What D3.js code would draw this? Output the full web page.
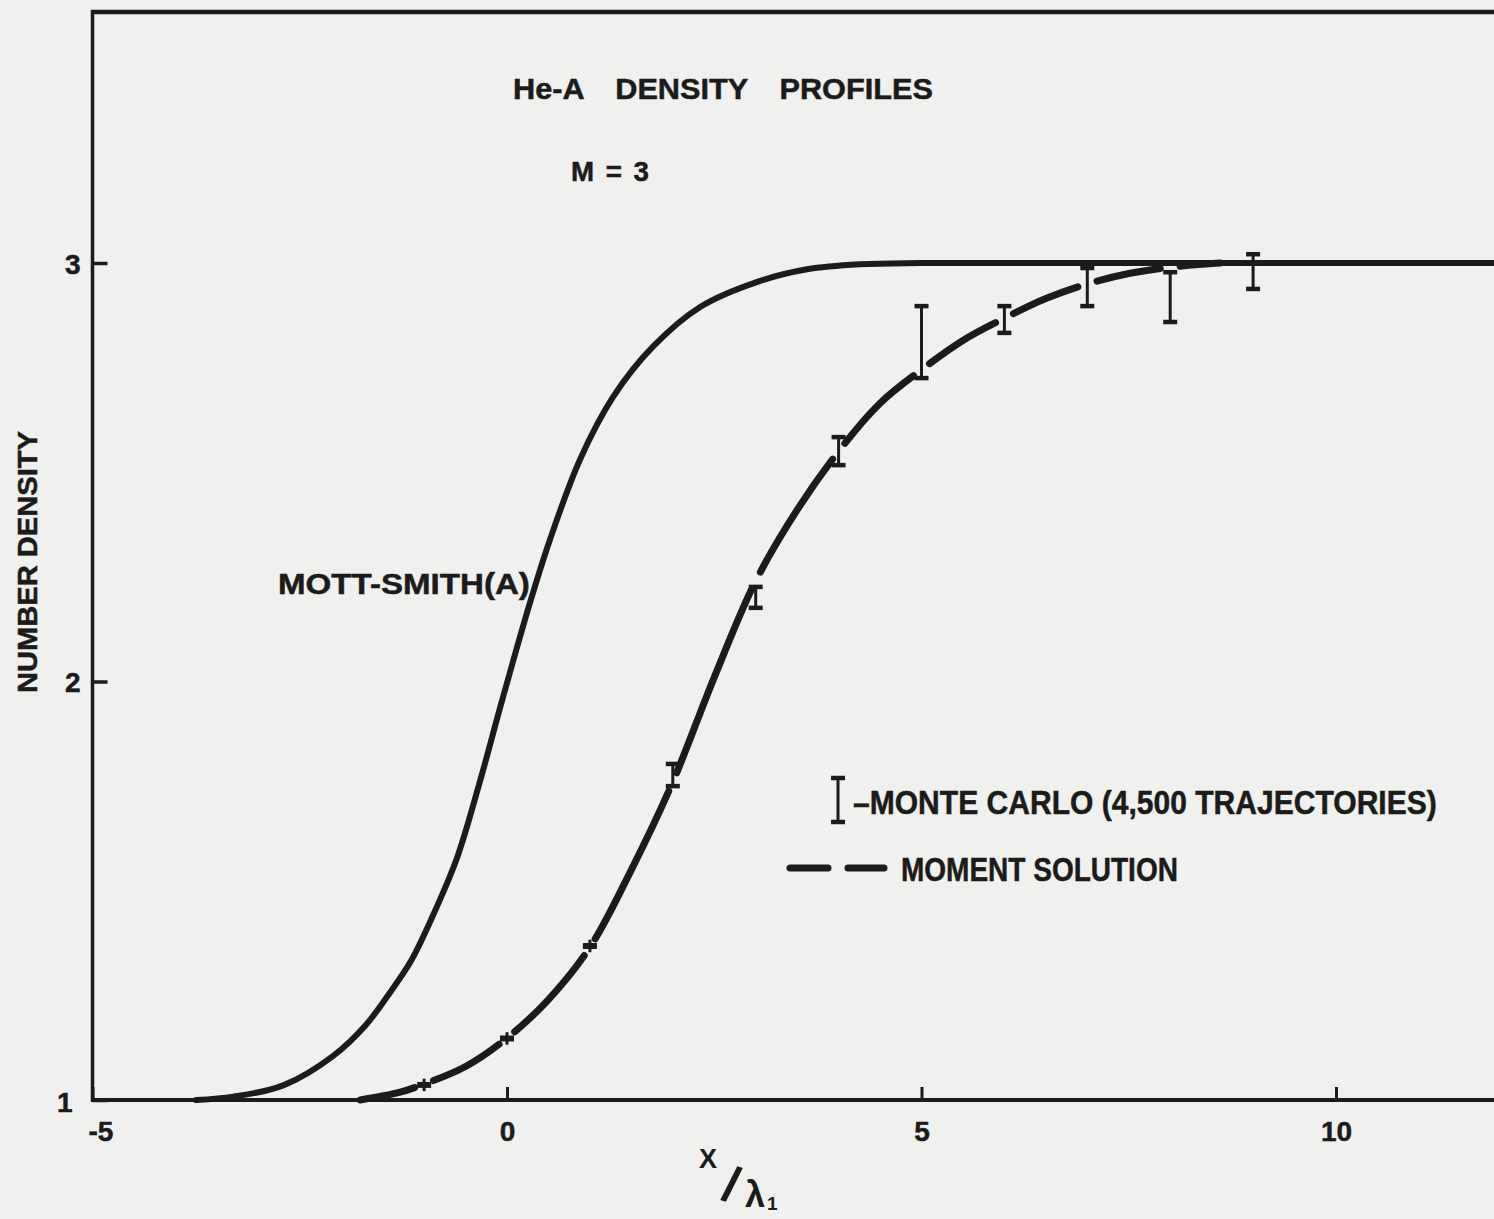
<!DOCTYPE html>
<html><head><meta charset="utf-8">
<script src="https://cdn.jsdelivr.net/npm/d3@7"></script>
<style>html,body{margin:0;padding:0;background:#f0f0ee;overflow:hidden}</style>
</head><body>
<svg id="c" width="1494" height="1219"></svg>
<script>
// ---- data ----
const mottSmithX = [-3.75, -3.3, -2.7, -2.1, -1.7, -1.4, -1.15, -0.85, -0.6, -0.3, -0.08, 0.28, 0.52, 0.88, 1.28, 1.76, 2.33, 3.02, 3.62, 4.26, 5.0, 7.0, 10.0, 12.5];
const mottSmithN = [1.0, 1.008, 1.035, 1.105, 1.18, 1.26, 1.335, 1.46, 1.58, 1.78, 1.94, 2.19, 2.34, 2.53, 2.68, 2.80, 2.895, 2.955, 2.985, 2.997, 3.0, 3.0, 3.0, 3.0];

const momentX = [-1.77, -1.3, -1.0, -0.5, 0.0, 0.5, 1.0, 1.5, 2.0, 2.5, 3.0, 3.5, 4.0, 4.5, 5.0, 5.5, 6.0, 6.5, 7.0, 7.5, 8.0, 8.6];
const momentN = [1.0, 1.018, 1.038, 1.08, 1.148, 1.24, 1.365, 1.55, 1.76, 2.01, 2.24, 2.41, 2.55, 2.665, 2.745, 2.815, 2.868, 2.915, 2.95, 2.975, 2.99, 3.0];

const monteCarloX  = [-1, 0, 1, 2, 3, 4, 5, 6, 7, 8, 9];
const monteCarloLo = [1.033, 1.144, 1.365, 1.750, 2.176, 2.517, 2.725, 2.833, 2.897, 2.859, 2.938];
const monteCarloHi = [1.039, 1.150, 1.371, 1.803, 2.226, 2.584, 2.897, 2.897, 2.988, 2.978, 3.021];

const xTickValues = [-5, 0, 5, 10];
const xTickLabels = ["-5", "0", "5", "10"];
const yTickValues = [1, 2, 3];
const yTickLabels = ["1", "2", "3"];

const titleLines = ["He-A DENSITY PROFILES", "M = 3"];
const curveLabel = "MOTT-SMITH(A)";
const legendLabels = ["–MONTE CARLO (4,500 TRAJECTORIES)", "MOMENT SOLUTION"];
const yTitle = "NUMBER DENSITY";

// ---- drawing ----
const ink = "#1b1b1b";
const FONT = "'Liberation Sans', Arial, sans-serif";
const svg = d3.select("#c");
svg.append("rect").attr("width", 1494).attr("height", 1219).attr("fill", "#f0f0ee");

const x = d3.scaleLinear().domain([-5, 12]).range([92.5, 1501.8]);
const y = d3.scaleLinear().domain([1, 3]).range([1100, 263]);
const yTop = 3.6;

// frame / axes lines
svg.append("line").attr("x1", x(-5) - 1.5).attr("x2", x(12)).attr("y1", y(yTop)).attr("y2", y(yTop))
  .attr("stroke", ink).attr("stroke-width", 4.5);
svg.append("line").attr("x1", x(-5)).attr("x2", x(-5)).attr("y1", y(yTop) - 2).attr("y2", y(1) + 1.5)
  .attr("stroke", ink).attr("stroke-width", 3.5);
svg.append("line").attr("x1", x(-5) - 1.5).attr("x2", x(12)).attr("y1", y(1)).attr("y2", y(1))
  .attr("stroke", ink).attr("stroke-width", 4);

// text helper: natural text horizontally scaled to a target width
function fitText(s, px, py, size, width, opts = {}) {
  const t = svg.append("text").text(s)
    .attr("font-family", FONT).attr("font-weight", "bold").attr("font-size", size)
    .attr("fill", ink).attr("stroke", ink).attr("stroke-width", 0.5)
    .attr("text-anchor", opts.anchor || "start");
  if (opts.wordSpacing) t.attr("word-spacing", opts.wordSpacing);
  const nat = t.node().getComputedTextLength();
  const sx = width / nat;
  t.attr("transform", `translate(${px},${py})${opts.rotate ? ` rotate(${opts.rotate})` : ""} scale(${sx},1)`);
  return t;
}

// x axis
const xAxis = d3.axisBottom(x).tickValues(xTickValues)
  .tickFormat((d, i) => xTickLabels[i]).tickSize(-13).tickPadding(21);
const gx = svg.append("g").attr("transform", `translate(0,${y(1)})`).call(xAxis);
gx.select(".domain").remove();
gx.selectAll(".tick line").attr("stroke", ink).attr("stroke-width", 3);
gx.selectAll(".tick text").attr("font-family", FONT).attr("font-weight", "bold")
  .attr("font-size", 28).attr("fill", ink).attr("stroke", ink).attr("stroke-width", 0.5)
  .attr("dx", d => d === -5 ? 8 : 0);

// y axis
const yAxis = d3.axisLeft(y).tickValues(yTickValues)
  .tickFormat((d, i) => yTickLabels[i]).tickSize(-15).tickPadding(12);
const gy = svg.append("g").attr("transform", `translate(${x(-5)},0)`).call(yAxis);
gy.select(".domain").remove();
gy.selectAll(".tick line").attr("stroke", ink).attr("stroke-width", 3.5);
gy.selectAll(".tick text").attr("font-family", FONT).attr("font-weight", "bold")
  .attr("font-size", 28).attr("fill", ink).attr("stroke", ink).attr("stroke-width", 0.5)
  .attr("dy", d => d === 1 ? "0.4em" : "0.36em")
  .attr("dx", d => d === 1 ? -8 : 0);

// axis titles
fitText(yTitle, 37, 562, 28, 262, { anchor: "middle", rotate: -90 });

const xl = svg.append("text").attr("fill", ink).attr("font-family", FONT).attr("font-weight", "bold");
xl.append("tspan").attr("x", 699).attr("y", 1168).attr("font-size", 27).text("X");
xl.append("tspan").attr("x", 720).attr("y", 1199).attr("font-size", 50).attr("rotate", 16).text("/");
xl.append("tspan").attr("x", 745).attr("y", 1207).attr("font-size", 36).text("λ");
xl.append("tspan").attr("x", 767).attr("y", 1210).attr("font-size", 19).text("1");

// titles
fitText(titleLines[0], 513, 99, 29, 420, { wordSpacing: 22 });
fitText(titleLines[1], 571, 181, 28, 78, { wordSpacing: 4 });
fitText(curveLabel, 278, 594, 29, 252);

// curves
const pts = (xs, ns) => xs.map((v, i) => [x(v), y(ns[i])]);
const line = d3.line().curve(d3.curveCatmullRom.alpha(0.5));
svg.append("path").attr("d", line(pts(mottSmithX, mottSmithN)))
  .attr("fill", "none").attr("stroke", ink).attr("stroke-width", 6)
  .attr("stroke-linecap", "round");

// Moment solution: dashes broken at the Monte Carlo stations
const mPath = svg.append("path").attr("d", line(pts(momentX, momentN)))
  .attr("fill", "none").attr("stroke", ink).attr("stroke-width", 7)
  .attr("stroke-linecap", "round");
(function () {
  const node = mPath.node();
  const L = node.getTotalLength();
  const lenAtX = (px) => {
    let lo = 0, hi = L;
    for (let k = 0; k < 40; k++) {
      const mid = (lo + hi) / 2;
      if (node.getPointAtLength(mid).x < px) lo = mid; else hi = mid;
    }
    return (lo + hi) / 2;
  };
  const g = 10;
  const stations = monteCarloX.filter(v => v < momentX[momentX.length - 1]).map(v => lenAtX(x(v)));
  const arr = [];
  let prev = 0;
  stations.forEach(s => { arr.push(Math.max(0.1, s - g - prev)); arr.push(2 * g); prev = s + g; });
  arr.push(Math.max(0.1, L - prev)); arr.push(L);
  mPath.attr("stroke-dasharray", arr.join(","));
})();

// Monte Carlo error bars
const mc = svg.append("g").attr("stroke", ink);
monteCarloX.forEach((v, i) => {
  const cx = x(v), y1 = y(monteCarloHi[i]), y2 = y(monteCarloLo[i]);
  const small = (y2 - y1) < 8;
  const hw = 7;
  mc.append("line").attr("x1", cx).attr("x2", cx).attr("y1", small ? y1 - 5 : y1).attr("y2", small ? y2 + 5 : y2).attr("stroke-width", 3);
  mc.append("line").attr("x1", cx - hw).attr("x2", cx + hw).attr("y1", y1).attr("y2", y1).attr("stroke-width", small ? 3.5 : 4.5);
  mc.append("line").attr("x1", cx - hw).attr("x2", cx + hw).attr("y1", y2).attr("y2", y2).attr("stroke-width", small ? 3.5 : 4.5);
});

// legend
const lg = svg.append("g").attr("stroke", ink);
lg.append("line").attr("x1", 838).attr("x2", 838).attr("y1", 778).attr("y2", 822).attr("stroke-width", 3);
lg.append("line").attr("x1", 831).attr("x2", 845).attr("y1", 778).attr("y2", 778).attr("stroke-width", 4.5);
lg.append("line").attr("x1", 831).attr("x2", 845).attr("y1", 822).attr("y2", 822).attr("stroke-width", 4.5);
fitText(legendLabels[0], 853, 814, 34, 584);
lg.append("line").attr("x1", 790).attr("x2", 884).attr("y1", 868).attr("y2", 868)
  .attr("stroke-width", 7).attr("stroke-linecap", "round").attr("stroke-dasharray", "38,20,36,100");
fitText(legendLabels[1], 901, 881, 34, 277);
</script>
</body></html>
